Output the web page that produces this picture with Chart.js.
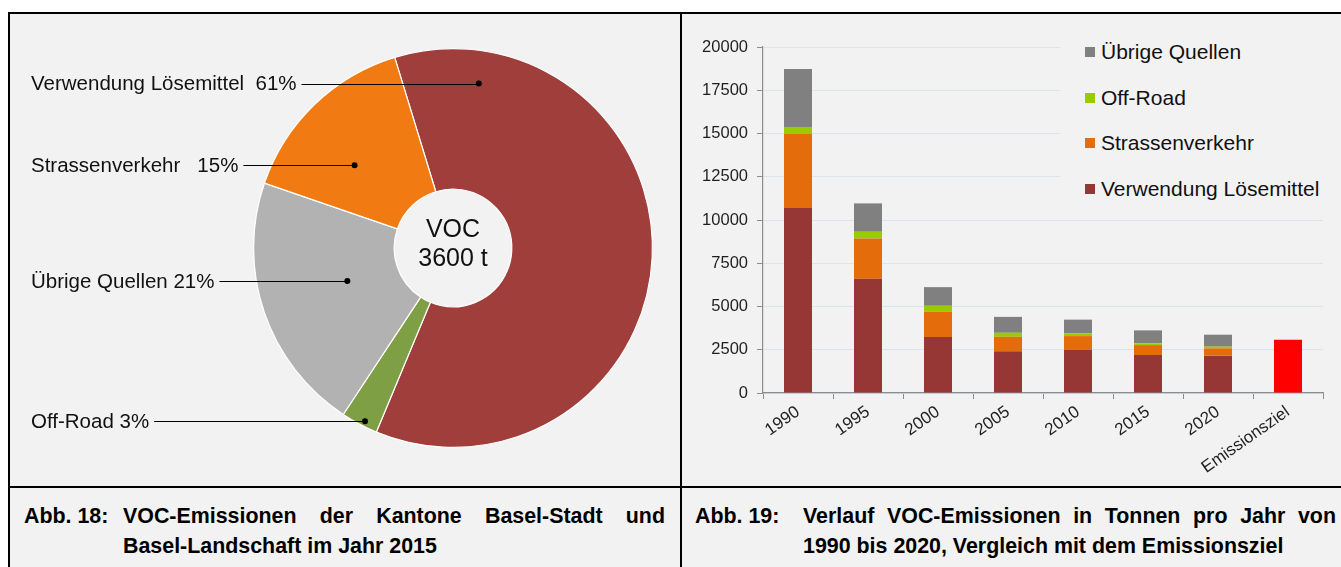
<!DOCTYPE html>
<html>
<head>
<meta charset="utf-8">
<script src="https://cdn.jsdelivr.net/npm/chart.js@4.4.1/dist/chart.umd.min.js"></script>
<style>
  body { margin: 0; width: 1341px; height: 567px; overflow: hidden; background: #fff; font-family: "Liberation Sans", Arial, sans-serif; }
  #frame { position: absolute; left: 8px; top: 12px; width: 1340px; height: 560px; background: #f2f2f2; border-top: 2px solid #000; border-left: 2px solid #000; }
  #vline { position: absolute; left: 680px; top: 12px; width: 2px; height: 560px; background: #000; }
  #hline { position: absolute; left: 8px; top: 486px; width: 1340px; height: 2px; background: #000; }
  #pieBox { position: absolute; left: 10px; top: 14px; width: 670px; height: 472px; }
  #barBox { position: absolute; left: 682px; top: 14px; width: 659px; height: 472px; }
  #legend { position: absolute; left: 1060px; top: 28px; width: 281px; height: 180px; background: #f2f2f2; }
  .item { position: absolute; left: 25px; height: 24px; font-size: 21px; line-height: 24px; color: #111; white-space: nowrap; }
  .item span { display: inline-block; width: 10px; height: 10px; margin-right: 6px; vertical-align: 2px; }
  .cap { position: absolute; font-weight: bold; font-size: 21.4px; line-height: 30px; color: #000; white-space: nowrap; }
  .just { text-align: justify; text-align-last: justify; white-space: normal; }
</style>
</head>
<body>
<div id="frame"></div>
<div id="pieBox"><canvas id="pieChart"></canvas></div>
<div id="barBox"><canvas id="barChart"></canvas></div>
<div id="legend"></div>
<div id="vline"></div>
<div id="hline"></div>

<div class="cap" style="left:24px; top:501px;">Abb. 18:</div>
<div class="cap just" style="left:123px; top:501px; width:542px;">VOC-Emissionen der Kantone Basel-Stadt und</div>
<div class="cap" style="left:123px; top:531px;">Basel-Landschaft im Jahr 2015</div>

<div class="cap" style="left:695px; top:501px;">Abb. 19:</div>
<div class="cap just" style="left:803px; top:501px; width:533px;">Verlauf VOC-Emissionen in Tonnen pro Jahr von</div>
<div class="cap" style="left:803px; top:531px;">1990 bis 2020, Vergleich mit dem Emissionsziel</div>

<script>
// Pie data (clockwise from the top, after rotation)
const pieLabels = ['Verwendung Lösemittel', 'Off-Road', 'Übrige Quellen', 'Strassenverkehr'];
const pieShares = [61, 3, 21, 15];
const pieColors = ['#a03e3c', '#7f9f45', '#b2b2b2', '#f27a12'];
const pieGaps = ['  ', ' ', ' ', '   '];
const pieTotal = ['VOC', '3600 t'];

// Bar data
const years = ['1990', '1995', '2000', '2005', '2010', '2015', '2020', 'Emissionsziel'];
const solvents = [10700, 6600, 3230, 2420, 2520, 2190, 2160, null];
const roadTraffic = [4300, 2330, 1460, 830, 770, 580, 420, null];
const offRoad = [380, 390, 350, 230, 160, 100, 100, null];
const otherSources = [3350, 1640, 1080, 920, 790, 750, 690, null];
const target = [null, null, null, null, null, null, null, 3080];
const yTicks = [0, 2500, 5000, 7500, 10000, 12500, 15000, 17500, 20000];

// where the leader lines hit each slice (fraction of the arc, fraction of the radius)
const anchors = [[0.118, 0.835], [0.4, 0.975], [0.52, 0.555], [0.39, 0.645]];

const fontStack = '"Liberation Sans", Arial, sans-serif';

const pieLabelPlugin = {
    id: 'pieLabels',
    afterDraw(chart) {
        const ctx = chart.ctx;
        const arcs = chart.getDatasetMeta(0).data;
        ctx.save();
        ctx.font = '20.5px ' + fontStack;
        ctx.textBaseline = 'middle';
        arcs.forEach((arc, i) => {
            const p = arc.getProps(['x', 'y', 'startAngle', 'endAngle', 'outerRadius']);
            const a = p.startAngle + anchors[i][0] * (p.endAngle - p.startAngle);
            const px = p.x + Math.cos(a) * anchors[i][1] * p.outerRadius;
            const py = p.y + Math.sin(a) * anchors[i][1] * p.outerRadius;
            const text = pieLabels[i] + pieGaps[i] + pieShares[i] + '%';
            ctx.fillStyle = '#111';
            ctx.textAlign = 'left';
            ctx.fillText(text, 21, py + 1);
            const w = ctx.measureText(text).width;
            ctx.strokeStyle = '#000';
            ctx.lineWidth = 1.2;
            ctx.beginPath();
            ctx.moveTo(21 + w + 5, Math.round(py) + 0.5);
            ctx.lineTo(px, Math.round(py) + 0.5);
            ctx.stroke();
            ctx.fillStyle = '#000';
            ctx.beginPath();
            ctx.arc(px, py, 3, 0, Math.PI * 2);
            ctx.fill();
        });
        // centre text
        const c = arcs[0];
        ctx.font = '25px ' + fontStack;
        ctx.textAlign = 'center';
        ctx.fillStyle = '#111';
        ctx.fillText(pieTotal[0], c.x, c.y - 18);
        ctx.fillText(pieTotal[1], c.x, c.y + 11);
        ctx.restore();
    }
};

new Chart(document.getElementById('pieChart'), {
    type: 'doughnut',
    data: {
        labels: pieLabels,
        datasets: [{
            data: pieShares,
            backgroundColor: pieColors,
            borderColor: '#ffffff',
            borderWidth: 1.2
        }]
    },
    options: {
        responsive: true,
        maintainAspectRatio: false,
        animation: false,
        rotation: -17,
        cutout: '29.5%',
        layout: { padding: { left: 243, right: 27, top: 34, bottom: 38 } },
        plugins: { legend: { display: false }, tooltip: { enabled: false } }
    },
    plugins: [pieLabelPlugin]
});

const series = [
    { label: 'Verwendung Lösemittel', data: solvents, color: '#963735' },
    { label: 'Strassenverkehr', data: roadTraffic, color: '#e46c0a' },
    { label: 'Off-Road', data: offRoad, color: '#99cc00' },
    { label: 'Übrige Quellen', data: otherSources, color: '#808080' },
    { label: 'Emissionsziel', data: target, color: '#ff0000' }
];

const tickFont = { family: fontStack, size: 16.5 };

new Chart(document.getElementById('barChart'), {
    type: 'bar',
    data: {
        labels: years,
        datasets: series.map(s => ({
            label: s.label,
            data: s.data,
            backgroundColor: s.color,
            stack: 'voc',
            barPercentage: 0.4,
            categoryPercentage: 1
        }))
    },
    options: {
        responsive: true,
        maintainAspectRatio: false,
        animation: false,
        layout: { padding: { top: 33, right: 18 } },
        plugins: { legend: { display: false }, tooltip: { enabled: false } },
        scales: {
            x: {
                stacked: true,
                grid: { offset: true, drawOnChartArea: false, tickLength: 6, tickColor: '#8c8c8c' },
                border: { color: '#8c8c8c', width: 1.2 },
                ticks: { font: { family: fontStack, size: 17 }, color: '#1f1f1f', minRotation: 35, maxRotation: 35, autoSkip: false, padding: 3 },
                afterFit: (scale) => { scale.height = 93; }
            },
            y: {
                stacked: true,
                min: 0,
                max: 20000,
                afterBuildTicks: (scale) => { scale.ticks = yTicks.map(v => ({ value: v })); },
                grid: { color: '#dbe3ef', tickLength: 6, tickColor: '#8c8c8c' },
                border: { color: '#8c8c8c', width: 1.2 },
                ticks: { font: tickFont, color: '#1f1f1f', padding: 9, callback: (v) => String(v) },
                afterFit: (scale) => { scale.width = 81; }
            }
        }
    }
});

// legend, top entry first
const legend = document.getElementById('legend');
const legendOrder = [3, 2, 1, 0];
legendOrder.forEach((idx, row) => {
    const div = document.createElement('div');
    div.className = 'item';
    div.style.top = (12 + row * 45.5) + 'px';
    div.innerHTML = '<span style="background:' + series[idx].color + '"></span>' + series[idx].label;
    legend.appendChild(div);
});
</script>
</body>
</html>
